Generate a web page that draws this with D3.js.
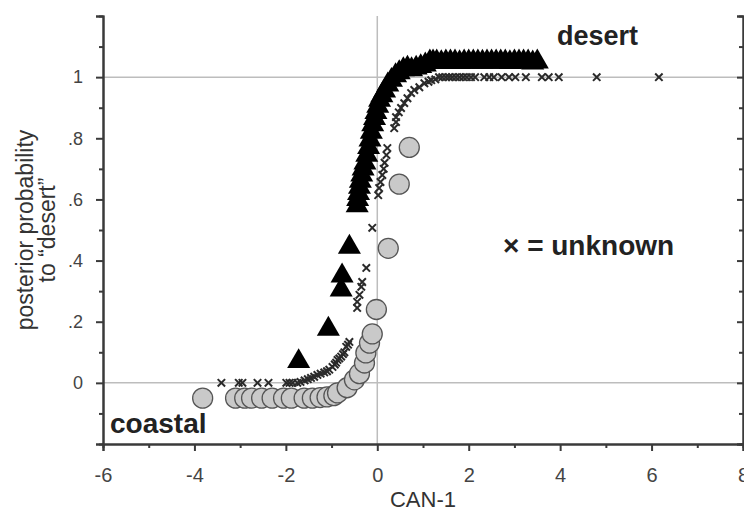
<!DOCTYPE html>
<html><head><meta charset="utf-8">
<script src="https://cdn.jsdelivr.net/npm/d3@7"></script>
<style>
html,body{margin:0;padding:0;background:#fff;}
svg{display:block;font-family:"Liberation Sans",Arial,Helvetica,sans-serif;}
</style></head>
<body>
<svg id="chart" width="744" height="513"></svg>
<script>
// ---- data ----
const xTicks = [-6, -4, -2, 0, 2, 4, 6, 8];
const yTicks = [0, 0.2, 0.4, 0.6, 0.8, 1];
const yTickLabels = ["0", ".2", ".4", ".6", ".8", "1"];

const coastalX = [-3.82, -3.1, -2.9, -2.75, -2.53, -2.3, -2.05, -1.88, -1.6, -1.42, -1.25, -1.1, -0.95,
  -0.87, -0.66, -0.5, -0.39, -0.28, -0.25, -0.17, -0.11, -0.02, 0.24, 0.48, 0.70];
const coastalP = [0, 0, 0, 0, 0, 0, 0, 0, 0, 0, 0.002, 0.004, 0.008,
  0.017, 0.034, 0.06, 0.08, 0.115, 0.148, 0.18, 0.21, 0.29, 0.49, 0.70, 0.82];

const desertX = [-1.72, -1.07, -0.79, -0.77, -0.61,
  -0.44, -0.43, -0.41, -0.39, -0.37, -0.34, -0.31, -0.27, -0.23, -0.19, -0.16, -0.13, -0.10, -0.06, -0.03,
  0.01, 0.05, 0.10, 0.16, 0.23, 0.31, 0.40, 0.48, 0.57, 0.66,
  0.75, 0.85, 0.95, 1.05, 1.15, 1.22, 1.3, 1.4, 1.5, 1.6, 1.7, 1.8, 1.9, 2.0, 2.1, 2.2, 2.3, 2.4,
  2.5, 2.6, 2.7, 2.8, 2.9, 3.0, 3.1, 3.2, 3.3, 3.4, 3.5];
const desertP = [0.02, 0.126, 0.254, 0.30, 0.394,
  0.53, 0.55, 0.57, 0.59, 0.61, 0.63, 0.65, 0.67, 0.695, 0.72, 0.745, 0.77, 0.795, 0.815, 0.835,
  0.855, 0.875, 0.89, 0.905, 0.925, 0.94, 0.955, 0.965, 0.975, 0.98,
  0.975, 0.98, 0.985, 0.99, 1, 1, 1, 0.998, 1, 1, 1, 0.998, 1, 1, 1, 1, 0.999, 1,
  1, 1, 1, 1, 0.998, 1, 1, 1, 1, 0.997, 1];

const unknownX = [-3.41, -3.03, -2.95, -2.62, -2.38, -1.99, -1.92, -1.85, -1.75,
  -1.68, -1.59, -1.52, -1.45, -1.38, -1.31, -1.24, -1.16, -1.1, -1.05, -0.98, -0.93, -0.90, -0.87,
  -0.83, -0.79, -0.75, -0.72, -0.68, -0.64, -0.61,
  -0.44, -0.44, -0.39, -0.35, -0.33, -0.24, -0.11,
  0.02, 0.04, 0.07, 0.11, 0.14, 0.16, 0.20, 0.22, 0.37, 0.41, 0.41, 0.47, 0.52, 0.59, 0.66, 0.74,
  0.81, 0.92, 1.03, 1.12, 1.18, 1.27,
  1.35, 1.42, 1.5, 1.57, 1.64, 1.72, 1.8, 1.88, 1.96, 2.05, 2.14, 2.34, 2.45, 2.55, 2.72, 2.88,
  3.02, 3.25, 3.6, 3.75, 3.97, 4.8, 6.16];
const unknownP = [0, 0, 0, 0, 0, 0, 0, 0, 0,
  0.003, 0.008, 0.012, 0.016, 0.02, 0.026, 0.03, 0.034, 0.038, 0.043, 0.052, 0.06, 0.066, 0.075,
  0.08, 0.086, 0.094, 0.10, 0.118, 0.125, 0.134,
  0.245, 0.265, 0.288, 0.314, 0.33, 0.376, 0.507,
  0.614, 0.637, 0.657, 0.68, 0.70, 0.72, 0.745, 0.768, 0.833, 0.853, 0.869, 0.885, 0.899, 0.915, 0.931, 0.948,
  0.958, 0.967, 0.98, 0.985, 0.99, 0.993,
  1, 1, 1, 1, 1, 1, 1, 1, 1, 1, 1, 1, 1, 1, 1, 1,
  1, 1, 1, 1, 1, 1, 1];

// ---- layout ----
const svg = d3.select("#chart");
const L = 103, R = 743, T = 16, B = 444;
const x = d3.scaleLinear().domain([-6, 8]).range([L, R]);
const y = d3.scaleLinear().domain([-0.2, 1.2]).range([B, T]);
const desertOffset = 0.05, coastalOffset = -0.05;
const axisColor = "#3a3a3a";

// grid lines
const g = svg.append("g");
g.selectAll("line.h").data([0, 1]).join("line")
  .attr("x1", L).attr("x2", R).attr("y1", d => y(d)).attr("y2", d => y(d))
  .attr("stroke", "#bdbdbd").attr("stroke-width", 1.5);
g.append("line").attr("x1", x(0)).attr("x2", x(0)).attr("y1", T).attr("y2", B)
  .attr("stroke", "#bdbdbd").attr("stroke-width", 1.5);

// axes
function styleAxis(sel) {
  sel.select(".domain").attr("stroke", axisColor).attr("stroke-width", 2);
  sel.selectAll(".tick line").attr("stroke", axisColor).attr("stroke-width", 2);
  sel.selectAll("text").attr("fill", "#444").attr("font-size", 20)
    .attr("font-family", "'Liberation Sans', Arial, sans-serif");
}
// minor ticks x
svg.append("g").attr("transform", `translate(0,${B})`)
  .call(d3.axisBottom(x).tickValues(d3.range(-5, 8, 2)).tickSize(4).tickFormat(""))
  .call(styleAxis);
const xa = svg.append("g").attr("transform", `translate(0,${B})`)
  .call(d3.axisBottom(x).tickValues(xTicks).tickSize(7).tickPadding(17).tickFormat(d3.format("d")))
  .call(styleAxis);
xa.selectAll("text").text(d => String(d));

// y axis: minor then major
svg.append("g").attr("transform", `translate(${L},0)`)
  .call(d3.axisLeft(y).tickValues(d3.range(-0.1, 1.2, 0.2)).tickSize(4).tickFormat(""))
  .call(styleAxis);
svg.append("g").attr("transform", `translate(${L},0)`)
  .call(d3.axisLeft(y).tickValues([-0.2, 0, 0.2, 0.4, 0.6, 0.8, 1, 1.2]).tickSize(7).tickPadding(13)
    .tickFormat(d => { const i = yTicks.findIndex(v => Math.abs(v - d) < 1e-9); return i >= 0 ? yTickLabels[i] : ""; }))
  .call(styleAxis)
  .selectAll("text").attr("font-size", 18);

// right frame with inward ticks
svg.append("g").attr("transform", `translate(${R},0)`)
  .call(d3.axisLeft(y).tickValues(d3.range(-0.1, 1.2, 0.2)).tickSize(4).tickFormat(""))
  .call(styleAxis);
svg.append("g").attr("transform", `translate(${R},0)`)
  .call(d3.axisLeft(y).tickValues([-0.2, 0, 0.2, 0.4, 0.6, 0.8, 1, 1.2]).tickSize(6).tickFormat(""))
  .call(styleAxis);

// axis titles
svg.append("text").attr("x", (L + R) / 2).attr("y", 507).attr("text-anchor", "middle")
  .attr("font-size", 22).attr("fill", "#333").text("CAN-1");
const yt = svg.append("text").attr("transform", `translate(36,${(T + B) / 2}) rotate(-90)`)
  .attr("text-anchor", "middle").attr("font-size", 23).attr("fill", "#333");
yt.append("tspan").attr("x", 0).attr("dy", "-0.15em").text("posterior probability");
yt.append("tspan").attr("x", 0).attr("dy", "0.98em").text("to \u201cdesert\u201d");

// points
const pts = svg.append("g");
const coastal = coastalX.map((v, i) => ({ v, p: coastalP[i] }));
const desert = desertX.map((v, i) => ({ v, p: desertP[i] }));
const unknown = unknownX.map((v, i) => ({ v, p: unknownP[i] }));

pts.selectAll("circle").data(coastal).join("circle")
  .attr("cx", d => x(d.v)).attr("cy", d => y(d.p + coastalOffset)).attr("r", 10)
  .attr("fill", "#c9c9c9").attr("stroke", "#555").attr("stroke-width", 1.3);

const tri = d3.symbol().type(d3.symbolTriangle).size(230);
pts.selectAll("path.tri").data(desert).join("path").attr("class", "tri")
  .attr("d", tri).attr("transform", d => `translate(${x(d.v)},${y(d.p + desertOffset)})`)
  .attr("fill", "#000");

pts.selectAll("path.x").data(unknown).join("path").attr("class", "x")
  .attr("d", "M-3.7,-3.7L3.7,3.7M-3.7,3.7L3.7,-3.7")
  .attr("transform", d => `translate(${x(d.v)},${y(d.p)})`)
  .attr("stroke", "#2a2a2a").attr("stroke-width", 2).attr("fill", "none");

// labels
svg.append("text").attr("x", 557).attr("y", 45).attr("font-size", 27).attr("font-weight", "bold")
  .attr("fill", "#222").text("desert");
svg.append("text").attr("x", 110).attr("y", 433).attr("font-size", 28).attr("font-weight", "bold")
  .attr("fill", "#222").text("coastal");
svg.append("text").attr("x", 503).attr("y", 255).attr("font-size", 28).attr("font-weight", "bold")
  .attr("fill", "#222").text("\u00d7 = unknown");
</script>
</body></html>
